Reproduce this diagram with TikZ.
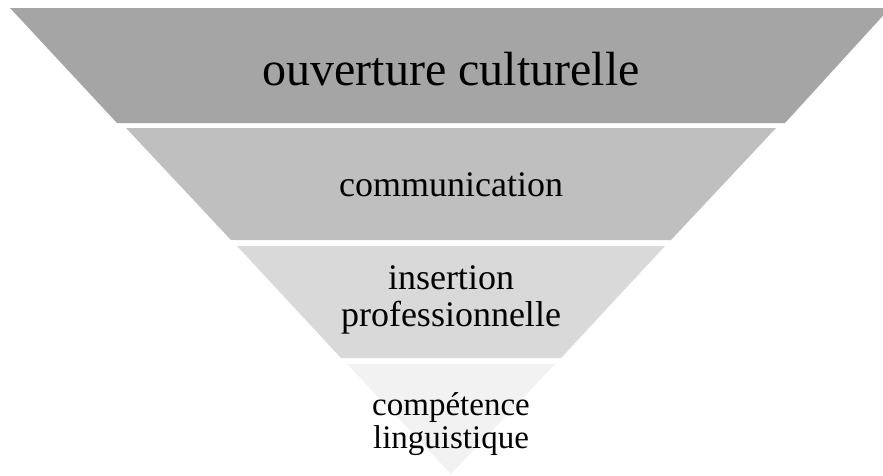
\documentclass[tikz,border=0pt]{standalone}
\usepackage{fontspec}
\setmainfont{Liberation Serif}
\definecolor{BandOne}{HTML}{A5A5A5}
\definecolor{BandTwo}{HTML}{BFBFBF}
\definecolor{BandThree}{HTML}{D9D9D9}
\definecolor{BandFour}{HTML}{F2F2F2}
\usetikzlibrary{calc}

\begin{document}
\begin{tikzpicture}[x=1pt, y=-1pt,
    align=center,
    font=\fontsize{36}{37}\selectfont,
    text=black]
    \path [use as bounding box] (0,0) rectangle (883,475);

    % the four bands, widest at the top
    \fill[BandOne] (10,8) -- (890,8) -- (785,123) -- (117,123) -- cycle;
    \fill[BandTwo] (126,128) -- (776,128) -- (671,240) -- (231,240) -- cycle;
    \fill[BandThree] (237,246) -- (665,246) -- (561,358) -- (341,358) -- cycle;
    \fill[BandFour] (347,364) -- (555,364) -- (451,474) -- cycle;

    \node[name=culture,
      font=\fontsize{48}{52}\selectfont] at (451,69) {ouverture culturelle};

    \node[name=comm] at (451,185) {communication};

    \node[name=insertion] at (451,300) {insertion\\professionnelle};

    \node[name=competence,
      font=\fontsize{33}{33}\selectfont] at (451,424) {compétence\\linguistique};
  \end{tikzpicture}
\end{document}
